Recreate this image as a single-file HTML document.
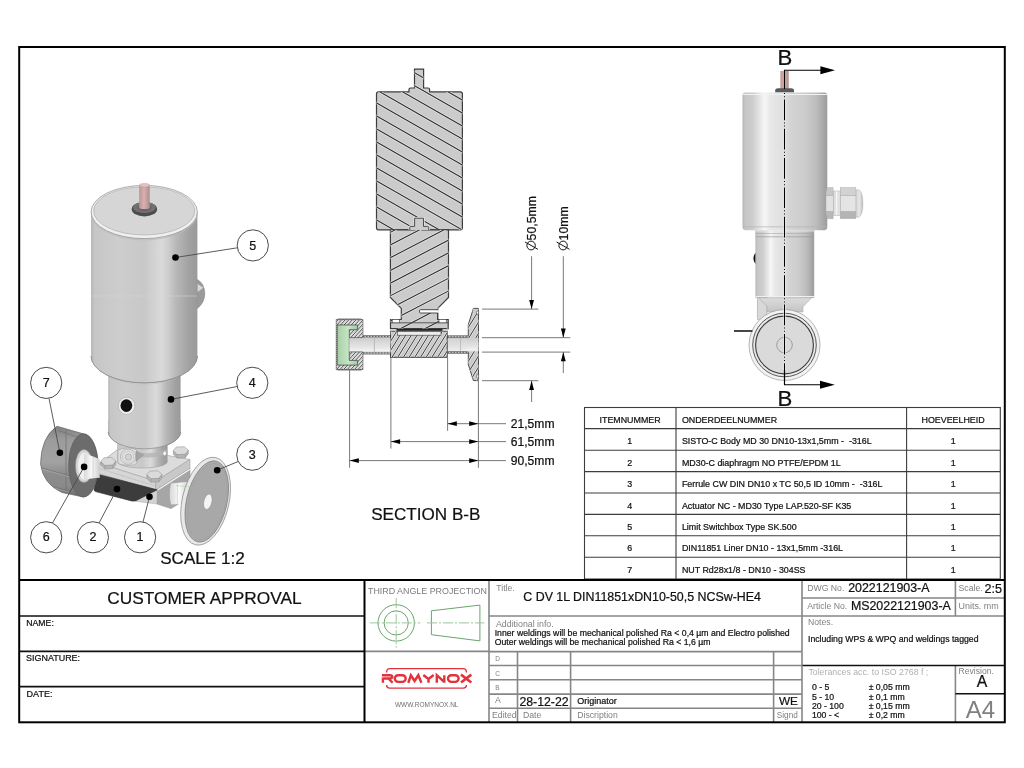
<!DOCTYPE html>
<html><head><meta charset="utf-8"><style>
html,body{margin:0;padding:0;background:#fff;width:1024px;height:768px;overflow:hidden}
svg{display:block;font-family:"Liberation Sans",sans-serif;filter:blur(0.3px)}
text[fill="#111"],g[fill="#111"] text{stroke:#111;stroke-width:0.22px}
</style></head><body>
<svg width="1024" height="768" viewBox="0 0 1024 768">
<rect x="0" y="0" width="1024" height="768" fill="#fff"/>

<defs>
<linearGradient id="cyl" x1="0" x2="1" y1="0" y2="0">
<stop offset="0" stop-color="#b2b2b2"/><stop offset="0.03" stop-color="#c6c6c6"/><stop offset="0.25" stop-color="#cdcdcd"/><stop offset="0.5" stop-color="#c8c8c8"/><stop offset="0.66" stop-color="#dadada"/><stop offset="0.72" stop-color="#cfcfcf"/><stop offset="0.8" stop-color="#b8b8b8"/><stop offset="0.92" stop-color="#a2a2a2"/><stop offset="1" stop-color="#9a9a9a"/>
</linearGradient>
<linearGradient id="pin" x1="0" x2="1" y1="0" y2="0">
<stop offset="0" stop-color="#bc9494"/><stop offset="0.45" stop-color="#d8b0b0"/><stop offset="1" stop-color="#b08c8c"/>
</linearGradient>
<linearGradient id="pipeL" x1="0" x2="1" y1="0" y2="0">
<stop offset="0" stop-color="#d8d8d8"/><stop offset="0.5" stop-color="#fafafa"/><stop offset="1" stop-color="#cfcfcf"/>
</linearGradient>
<linearGradient id="nutS" x1="0" x2="0" y1="0" y2="1">
<stop offset="0" stop-color="#808080"/><stop offset="0.2" stop-color="#9c9c9c"/><stop offset="0.5" stop-color="#a2a2a2"/><stop offset="0.68" stop-color="#8c8c8c"/><stop offset="0.85" stop-color="#8a8a8a"/><stop offset="1" stop-color="#6a6a6a"/>
</linearGradient>
<linearGradient id="nutG" x1="0" x2="1" y1="0" y2="0">
<stop offset="0" stop-color="#7a7a7a"/><stop offset="0.3" stop-color="#9a9a9a"/><stop offset="0.6" stop-color="#8e8e8e"/><stop offset="1" stop-color="#6e6e6e"/>
</linearGradient>
</defs>
<g id="iso">
<!-- actuator (4) -->
<path d="M108.3 370 L108.3 431.8 A36.15 17 0 0 0 180.6 431.8 L180.6 370 Z" fill="url(#cyl)"/>
<path d="M108.3 431.8 A36.15 17 0 0 0 180.6 431.8" fill="none" stroke="#8a8a8a" stroke-width="0.7"/>
<path d="M108.3 372 A36.15 12 0 0 0 180.6 372" fill="none" stroke="#bdbdbd" stroke-width="0.6"/>
<path d="M91.1 356 A53.15 26.8 0 0 0 197.4 356" fill="none" stroke="#8a8a8a" stroke-width="0.8"/>
<ellipse cx="126.6" cy="405.8" rx="8.3" ry="8.6" fill="#eeeeee" stroke="#9a9a9a" stroke-width="0.5"/>
<ellipse cx="126.4" cy="405.6" rx="5.9" ry="6.3" fill="#111"/>
<!-- big cylinder (5) -->
<path d="M91.1 212 L91.1 356 A53.15 26.8 0 0 0 197.4 356 L197.4 212 Z" fill="url(#cyl)"/>
<path d="M91.1 356 A53.15 26.8 0 0 0 197.4 356" fill="none" stroke="#8a8a8a" stroke-width="0.7"/>
<line x1="91.5" y1="296" x2="197" y2="296" stroke="#d4d4d4" stroke-width="0.8" opacity="0.7"/>
<path d="M197.4 279.5 Q205 284 204.8 294 Q204.5 303 197.4 308.4 Z" fill="#9a9a9a" stroke="#7a7a7a" stroke-width="0.5"/>
<path d="M197.6 284 L203.4 287.8 L197.6 292 Z" fill="#d8d8d8"/>
<ellipse cx="144.25" cy="212" rx="53.15" ry="26.6" fill="#efefef" stroke="#8e8e8e" stroke-width="0.7"/>
<ellipse cx="144.25" cy="210.9" rx="50.6" ry="24.1" fill="#d6d6d6" stroke="#a8a8a8" stroke-width="0.6"/>
<path d="M91.3 214.5 A53 26.6 0 0 0 197.2 214.5" fill="none" stroke="#bdbdbd" stroke-width="0.8"/>
<!-- pin -->
<ellipse cx="144.4" cy="209.2" rx="12.7" ry="7.2" fill="#4c4c4c"/>
<ellipse cx="144.4" cy="207.4" rx="11.4" ry="5.6" fill="#727272"/>
<ellipse cx="144.4" cy="207.6" rx="7.5" ry="3.6" fill="#666"/>
<rect x="139.2" y="185.2" width="10.5" height="22.4" fill="url(#pin)"/>
<ellipse cx="144.45" cy="207.5" rx="5.25" ry="1.6" fill="url(#pin)"/>
<ellipse cx="144.45" cy="185.2" rx="5.25" ry="1.8" fill="#e2c2c2" stroke="#b08888" stroke-width="0.4"/>
<!-- neck -->
<path d="M117.6 446 L117.6 466 L167.4 466 L167.4 446 Q142 452 117.6 446 Z" fill="#d6d6d6"/>
<!-- body top plate -->
<path d="M99.4 463.3 L121 447 L190 459.5 L155.6 481.3 Z" fill="#dcdcdc" stroke="#9a9a9a" stroke-width="0.6"/>
<path d="M99.4 463.3 L155.6 481.3 L155.6 490.3 L99.4 473.8 Z" fill="#d6d6d6" stroke="#9a9a9a" stroke-width="0.5"/>
<path d="M99.6 468.6 L155.4 486" stroke="#b0b0b0" stroke-width="0.5" fill="none"/>
<path d="M155.6 481.3 L190 459.5 L190 468.5 L155.6 490.3 Z" fill="#c8c8c8" stroke="#9a9a9a" stroke-width="0.5"/>
<!-- neck over plate -->
<path d="M117.3 440 L117.3 461.5 A25.1 6.5 0 0 0 167.5 461.5 L167.5 440 Z" fill="url(#cyl)"/>
<path d="M117.3 461.5 A25.1 6.5 0 0 0 167.5 461.5" fill="none" stroke="#a0a0a0" stroke-width="0.6"/>
<path d="M128 449.5 Q150 457 167.5 449 L167.5 453.5 Q150 461 128 454 Z" fill="#b4b4b4" opacity="0.8"/>

<path d="M118 450 L118 463 Q122 466 134 465 L137 463 L137 450 Q128 446 118 450 Z" fill="#dedede" stroke="#9a9a9a" stroke-width="0.5"/>
<circle cx="128.1" cy="456.7" r="7.6" fill="#e2e2e2" stroke="#9a9a9a" stroke-width="0.6"/>
<circle cx="128.1" cy="456.7" r="5.6" fill="none" stroke="#b0b0b0" stroke-width="0.5"/>
<circle cx="128.4" cy="457" r="3.2" fill="#d2d2d2" stroke="#9a9a9a" stroke-width="0.5"/>
<path d="M136 451 L143.6 454.9 L136 461.4 Z" fill="#a4a4a4" stroke="#8a8a8a" stroke-width="0.4"/>
<ellipse cx="164.7" cy="453.5" rx="1.2" ry="1.9" fill="#fff"/>
<path d="M108.3 420 L108.3 431.8 A36.15 17 0 0 0 180.6 431.8 L180.6 420 Z" fill="url(#cyl)"/>
<path d="M108.3 431.8 A36.15 17 0 0 0 180.6 431.8" fill="none" stroke="#8a8a8a" stroke-width="0.7"/>
<!-- bolts -->
<polygon points="100.8,461.5 104.8,465.4 112.8,465 115.8,461 115.8,464.5 112.8,468.5 104.8,469 100.8,465" fill="#b4b4b4" stroke="#8a8a8a" stroke-width="0.5"/><polygon points="100.8,461.5 103.8,457.8 111.8,457.5 115.8,461 112.8,465 104.8,465.4" fill="#dadada" stroke="#8a8a8a" stroke-width="0.5"/><line x1="104.8" y1="465.4" x2="104.8" y2="469" stroke="#8a8a8a" stroke-width="0.4"/><line x1="112.8" y1="465" x2="112.8" y2="468.5" stroke="#8a8a8a" stroke-width="0.4"/><polygon points="146.9,474.8 150.9,478.7 158.9,478.3 161.9,474.3 161.9,477.8 158.9,481.8 150.9,482.3 146.9,478.3" fill="#b4b4b4" stroke="#8a8a8a" stroke-width="0.5"/><polygon points="146.9,474.8 149.9,471.1 157.9,470.8 161.9,474.3 158.9,478.3 150.9,478.7" fill="#dadada" stroke="#8a8a8a" stroke-width="0.5"/><line x1="150.9" y1="478.7" x2="150.9" y2="482.3" stroke="#8a8a8a" stroke-width="0.4"/><line x1="158.9" y1="478.3" x2="158.9" y2="481.8" stroke="#8a8a8a" stroke-width="0.4"/><polygon points="173.3,450.7 177.3,454.59999999999997 185.3,454.2 188.3,450.2 188.3,453.7 185.3,457.7 177.3,458.2 173.3,454.2" fill="#b4b4b4" stroke="#8a8a8a" stroke-width="0.5"/><polygon points="173.3,450.7 176.3,447.0 184.3,446.7 188.3,450.2 185.3,454.2 177.3,454.59999999999997" fill="#dadada" stroke="#8a8a8a" stroke-width="0.5"/><line x1="177.3" y1="454.59999999999997" x2="177.3" y2="458.2" stroke="#8a8a8a" stroke-width="0.4"/><line x1="185.3" y1="454.2" x2="185.3" y2="457.7" stroke="#8a8a8a" stroke-width="0.4"/>
<!-- body right face -->
<path d="M155.6 490.3 L190 468.5 L190 497 L171 508.6 L157 504 Z" fill="#a6a6a6" stroke="#8a8a8a" stroke-width="0.5"/>
<path d="M156 491 L190 469.2" fill="none" stroke="#f4f4f4" stroke-width="1.3"/>
<!-- under body -->
<path d="M131 500.8 L157.2 489.8 L157 504 L145 502.5 Z" fill="#d2d2d2" stroke="#a0a0a0" stroke-width="0.4"/>
<!-- diaphragm (2) -->
<path d="M97.8 474.2 L157.2 489.8 L136.5 500.4 Q134 501.3 131.5 500.9 L95.5 491.6 Q93.9 491 94 489.5 Z" fill="#3c3c3c" stroke="#2a2a2a" stroke-width="0.6"/>
<!-- right pipe -->
<path d="M171 483.5 L189 481.8 L189 503.5 L171 504.5 Q168.5 494 171 483.5 Z" fill="url(#pipeL)"/>
<line x1="177.5" y1="482.9" x2="177.5" y2="504.1" stroke="#c8c8c8" stroke-width="0.5"/>
<!-- flange (3) -->
<g transform="rotate(13 205.6 501.2)">
<ellipse cx="205.6" cy="501.2" rx="23.4" ry="44.8" fill="#e8e8e8" stroke="#8a8a8a" stroke-width="0.7"/>
<ellipse cx="206.8" cy="501.2" rx="20.2" ry="41.4" fill="#acacac" stroke="#7a7a7a" stroke-width="0.7"/>
<ellipse cx="207.3" cy="501.2" rx="18.5" ry="39" fill="#a8a8a8" stroke="#9a9a9a" stroke-width="0.4"/>
<ellipse cx="207.9" cy="501.2" rx="4" ry="7.8" fill="#f4f4f4" stroke="#8a8a8a" stroke-width="0.5"/>
</g>
<line x1="200" y1="488" x2="176" y2="485.5" stroke="#8ac08a" stroke-width="0.5" opacity="0.8"/>
<!-- left pipe -->
<path d="M80 458 L99.5 462 L99.5 478 L80 476 Z" fill="url(#pipeL)"/>
<!-- nut (7) -->
<path d="M57 426.2 L83.3 433.8 A14.7 31.6 0 0 1 83.3 497 L62 492.5 Q43 484 40.5 464 Q41 437 57 426.2 Z" fill="url(#nutS)" stroke="#5a5a5a" stroke-width="0.6"/>
<clipPath id="cpNutS"><path d="M57 426.2 L83.3 433.8 A14.7 31.6 0 0 1 83.3 497 L62 492.5 Q43 484 40.5 464 Q41 437 57 426.2 Z"/></clipPath>
<g clip-path="url(#cpNutS)">
<path d="M40 467.5 L70 476 M40 483 L70 491.5 M58 430.5 L76 436.5 M66 430 L66 494" stroke="#737373" stroke-width="0.8" fill="none"/>
<path d="M40 468.5 L70 477 M40 484 L70 492.5" stroke="#b0b0b0" stroke-width="0.6" fill="none"/>
</g>
<ellipse cx="83.3" cy="465.4" rx="14.7" ry="31.6" fill="#6c6c6c" stroke="#555" stroke-width="0.5"/>
<ellipse cx="84" cy="466" rx="8.6" ry="16.5" fill="#d4d4d4" stroke="#888" stroke-width="0.5"/>
<ellipse cx="84.6" cy="466.2" rx="6.6" ry="13.6" fill="#f0f0f0"/>
<path d="M84 453 L99.5 459 L99.5 477.5 L84 479.5 Z" fill="url(#pipeL)"/>
<line x1="93" y1="456.5" x2="93" y2="478.5" stroke="#c4c4c4" stroke-width="0.6"/>
</g>
<line x1="237.3" y1="247.8" x2="175.5" y2="257.5" stroke="#4a4a4a" stroke-width="0.9"/><circle cx="175.5" cy="257.5" r="3.3" fill="#000"/><circle cx="252.8" cy="245.4" r="15.6" fill="#fff" stroke="#4a4a4a" stroke-width="1"/><text x="252.8" y="249.5" font-size="12.5" text-anchor="middle" fill="#111">5</text><line x1="237.2" y1="386.5" x2="171" y2="399.4" stroke="#4a4a4a" stroke-width="0.9"/><circle cx="171" cy="399.4" r="3.3" fill="#000"/><circle cx="252.3" cy="382.8" r="15.6" fill="#fff" stroke="#4a4a4a" stroke-width="1"/><text x="252.3" y="386.90000000000003" font-size="12.5" text-anchor="middle" fill="#111">4</text><line x1="238.2" y1="461.5" x2="217.2" y2="470.2" stroke="#4a4a4a" stroke-width="0.9"/><circle cx="217.2" cy="470.2" r="3.3" fill="#000"/><circle cx="252.3" cy="454.7" r="15.6" fill="#fff" stroke="#4a4a4a" stroke-width="1"/><text x="252.3" y="458.8" font-size="12.5" text-anchor="middle" fill="#111">3</text><line x1="49" y1="398.4" x2="59.9" y2="452.8" stroke="#4a4a4a" stroke-width="0.9"/><circle cx="59.9" cy="452.8" r="3.3" fill="#000"/><circle cx="46.2" cy="382.9" r="15.6" fill="#fff" stroke="#4a4a4a" stroke-width="1"/><text x="46.2" y="387.0" font-size="12.5" text-anchor="middle" fill="#111">7</text><line x1="52.5" y1="523" x2="84.1" y2="466.9" stroke="#4a4a4a" stroke-width="0.9"/><circle cx="84.1" cy="466.9" r="3.3" fill="#000"/><circle cx="46.2" cy="537.3" r="15.6" fill="#fff" stroke="#4a4a4a" stroke-width="1"/><text x="46.2" y="541.4" font-size="12.5" text-anchor="middle" fill="#111">6</text><line x1="99" y1="523" x2="117" y2="489.1" stroke="#4a4a4a" stroke-width="0.9"/><circle cx="117" cy="489.1" r="3.3" fill="#000"/><circle cx="92.9" cy="537.3" r="15.6" fill="#fff" stroke="#4a4a4a" stroke-width="1"/><text x="92.9" y="541.4" font-size="12.5" text-anchor="middle" fill="#111">2</text><line x1="143" y1="522" x2="149.5" y2="496.8" stroke="#4a4a4a" stroke-width="0.9"/><circle cx="149.5" cy="496.8" r="3.3" fill="#000"/><circle cx="140.1" cy="537.3" r="15.6" fill="#fff" stroke="#4a4a4a" stroke-width="1"/><text x="140.1" y="541.4" font-size="12.5" text-anchor="middle" fill="#111">1</text><text x="160.2" y="563.5" font-size="17.1" fill="#111">SCALE 1:2</text>

<defs>
<clipPath id="cpNut"><path d="M336.3 319.8 L362.8 319.8 L362.8 369.3 L336.3 369.3 Z M337.2 325 L337.2 365.1 L357.6 365.1 L357.6 360.4 L349.3 360.4 L349.3 329.7 L357.6 329.7 L357.6 325 Z" clip-rule="evenodd"/></clipPath>
<clipPath id="cpUB"><path d="M376.5 94 Q376.5 91.9 378.6 91.9 L409 91.9 L409 89.6 Q409 88 410.6 88 L414.5 88 L414.5 69.1 L423.6 69.1 L423.6 88 L428 88 Q429.6 88 429.6 89.6 L429.6 91.9 L460.3 91.9 Q462.4 91.9 462.4 94 L462.4 227.8 Q462.4 229.9 460.3 229.9 L378.6 229.9 Q376.5 229.9 376.5 227.8 Z"/></clipPath>
<clipPath id="cpLA"><path d="M390.4 229.9 L448.5 229.9 L448.5 297.4 L437.7 308.4 L437.7 319.5 L448.2 319.5 L448.2 328.6 L390.5 328.6 L390.5 319.5 L401.3 319.5 L401.3 308.4 L390.4 297.4 Z"/></clipPath>
<clipPath id="cpBody"><rect x="390.5" y="331.2" width="56.7" height="26.1"/></clipPath>
<clipPath id="cpFl"><path d="M473.4 308.4 L478.5 308.4 L478.5 380.6 L473.4 380.6 L468.3 364.5 L468.3 324.5 Z"/></clipPath>
<linearGradient id="bore" x1="0" x2="0" y1="0" y2="1">
<stop offset="0" stop-color="#cbcbcb"/><stop offset="0.3" stop-color="#d8d8d8"/><stop offset="0.7" stop-color="#e6e6e6"/><stop offset="0.9" stop-color="#f2f2f2"/><stop offset="1" stop-color="#e2e2e2"/>
</linearGradient>
<linearGradient id="green" x1="0" x2="1" y1="0" y2="0">
<stop offset="0" stop-color="#a6cfa6"/><stop offset="0.55" stop-color="#c6e4c6"/><stop offset="1" stop-color="#a2cba2"/>
</linearGradient>
</defs>
<g id="section">
<path d="M376.5 94 Q376.5 91.9 378.6 91.9 L409 91.9 L409 89.6 Q409 88 410.6 88 L414.5 88 L414.5 69.1 L423.6 69.1 L423.6 88 L428 88 Q429.6 88 429.6 89.6 L429.6 91.9 L460.3 91.9 Q462.4 91.9 462.4 94 L462.4 227.8 Q462.4 229.9 460.3 229.9 L378.6 229.9 Q376.5 229.9 376.5 227.8 Z" fill="#cbcbcb" stroke="#3c3c3c" stroke-width="1.2"/>
<path d="M370.0 -17.7L470.0 39.3M370.0 -4.7L470.0 52.3M370.0 8.3L470.0 65.3M370.0 21.3L470.0 78.3M370.0 34.3L470.0 91.3M370.0 47.3L470.0 104.3M370.0 60.3L470.0 117.3M370.0 73.3L470.0 130.3M370.0 86.3L470.0 143.3M370.0 99.3L470.0 156.3M370.0 112.3L470.0 169.3M370.0 125.3L470.0 182.3M370.0 138.3L470.0 195.3M370.0 151.3L470.0 208.3M370.0 164.3L470.0 221.3M370.0 177.3L470.0 234.3M370.0 190.3L470.0 247.3M370.0 203.3L470.0 260.3M370.0 216.3L470.0 273.3M370.0 229.3L470.0 286.3M370.0 242.3L470.0 299.3M370.0 255.3L470.0 312.3" stroke="#e2e2e2" stroke-width="2.6" clip-path="url(#cpUB)"/>
<path d="M370.0 -17.7L470.0 39.3M370.0 -4.7L470.0 52.3M370.0 8.3L470.0 65.3M370.0 21.3L470.0 78.3M370.0 34.3L470.0 91.3M370.0 47.3L470.0 104.3M370.0 60.3L470.0 117.3M370.0 73.3L470.0 130.3M370.0 86.3L470.0 143.3M370.0 99.3L470.0 156.3M370.0 112.3L470.0 169.3M370.0 125.3L470.0 182.3M370.0 138.3L470.0 195.3M370.0 151.3L470.0 208.3M370.0 164.3L470.0 221.3M370.0 177.3L470.0 234.3M370.0 190.3L470.0 247.3M370.0 203.3L470.0 260.3M370.0 216.3L470.0 273.3M370.0 229.3L470.0 286.3M370.0 242.3L470.0 299.3M370.0 255.3L470.0 312.3" stroke="#2a2a2a" stroke-width="1.05" clip-path="url(#cpUB)"/>
<path d="M390.4 229.9 L448.5 229.9 L448.5 297.4 L437.7 308.4 L437.7 319.5 L448.2 319.5 L448.2 328.6 L390.5 328.6 L390.5 319.5 L401.3 319.5 L401.3 308.4 L390.4 297.4 Z" fill="#cbcbcb" stroke="#3c3c3c" stroke-width="1.2"/>
<path d="M385.0 209.7L455.0 173.3M385.0 222.4L455.0 186.0M385.0 235.1L455.0 198.7M385.0 247.8L455.0 211.4M385.0 260.5L455.0 224.1M385.0 273.2L455.0 236.8M385.0 285.9L455.0 249.5M385.0 298.6L455.0 262.2M385.0 311.3L455.0 274.9M385.0 324.0L455.0 287.6M385.0 336.7L455.0 300.3M385.0 349.4L455.0 313.0M385.0 362.1L455.0 325.7M385.0 374.8L455.0 338.4M385.0 387.5L455.0 351.1" stroke="#e2e2e2" stroke-width="2.6" clip-path="url(#cpLA)"/>
<path d="M385.0 209.7L455.0 173.3M385.0 222.4L455.0 186.0M385.0 235.1L455.0 198.7M385.0 247.8L455.0 211.4M385.0 260.5L455.0 224.1M385.0 273.2L455.0 236.8M385.0 285.9L455.0 249.5M385.0 298.6L455.0 262.2M385.0 311.3L455.0 274.9M385.0 324.0L455.0 287.6M385.0 336.7L455.0 300.3M385.0 349.4L455.0 313.0M385.0 362.1L455.0 325.7M385.0 374.8L455.0 338.4M385.0 387.5L455.0 351.1" stroke="#2a2a2a" stroke-width="1.05" clip-path="url(#cpLA)"/>
<line x1="390.5" y1="322.8" x2="448.2" y2="322.8" stroke="#3c3c3c" stroke-width="0.8"/>
<rect x="392.2" y="319.5" width="7.1" height="3.3" fill="#fff" stroke="#3c3c3c" stroke-width="0.6"/>
<rect x="439" y="319.5" width="7.2" height="3.3" fill="#fff" stroke="#3c3c3c" stroke-width="0.6"/>
<rect x="419.5" y="309.7" width="19" height="3.3" fill="#fff"/>
<path d="M438.2 309.7 H420.5 Q419.5 309.7 419.5 310.7 V312 Q419.5 313 420.5 313 H437.7 V319.5" fill="none" stroke="#3c3c3c" stroke-width="0.9"/>
<path d="M409.8 230 L409.8 227.4 Q409.8 226.4 410.8 226.4 L414.6 226.4 L414.6 218.2 L423.5 218.2 L423.5 226.4 L427.7 226.4 Q428.7 226.4 428.7 227.4 L428.7 230" fill="#cbcbcb" stroke="#e6e6e6" stroke-width="2.4"/>
<path d="M409.8 230 L409.8 227.4 Q409.8 226.4 410.8 226.4 L414.6 226.4 L414.6 218.2 L423.5 218.2 L423.5 226.4 L427.7 226.4 Q428.7 226.4 428.7 227.4 L428.7 230" fill="#cbcbcb" stroke="#3c3c3c" stroke-width="0.9"/>
<!-- pipes -->
<rect x="362.8" y="335.4" width="27.7" height="2.2" fill="#c4c4c4" stroke="#3c3c3c" stroke-width="0.5"/>
<rect x="362.8" y="351.9" width="27.7" height="2.2" fill="#c4c4c4" stroke="#3c3c3c" stroke-width="0.5"/>
<path d="M363 336.5 H390 M363 353 H390" stroke="#444" stroke-width="0.8" stroke-dasharray="1.5 1.5"/>
<rect x="447.2" y="335.8" width="21.3" height="17.6" fill="url(#bore)"/>
<rect x="447.2" y="335.8" width="21.3" height="2" fill="#c4c4c4" stroke="#3c3c3c" stroke-width="0.5"/>
<rect x="447.2" y="351.4" width="21.3" height="2" fill="#c4c4c4" stroke="#3c3c3c" stroke-width="0.5"/>
<path d="M447.5 336.8 H468.5 M447.5 352.4 H468.5" stroke="#444" stroke-width="0.8" stroke-dasharray="1.5 1.5"/>
<line x1="460.5" y1="337.8" x2="460.5" y2="351.4" stroke="#aaa" stroke-width="0.6"/>
<!-- body -->
<rect x="390.5" y="331.2" width="56.7" height="26.1" fill="#cbcbcb" stroke="#3c3c3c" stroke-width="1"/>
<path d="M379.7 331.2L363.5 357.3M385.4 331.2L369.2 357.3M391.1 331.2L374.9 357.3M396.8 331.2L380.6 357.3M402.5 331.2L386.3 357.3M408.2 331.2L392.0 357.3M413.9 331.2L397.7 357.3M419.6 331.2L403.4 357.3M425.3 331.2L409.1 357.3M431.0 331.2L414.8 357.3M436.7 331.2L420.5 357.3M442.4 331.2L426.2 357.3M448.1 331.2L431.9 357.3M453.8 331.2L437.6 357.3M459.5 331.2L443.3 357.3M465.2 331.2L449.0 357.3M470.9 331.2L454.7 357.3" stroke="#e4e4e4" stroke-width="2.4" clip-path="url(#cpBody)"/>
<path d="M379.7 331.2L363.5 357.3M385.4 331.2L369.2 357.3M391.1 331.2L374.9 357.3M396.8 331.2L380.6 357.3M402.5 331.2L386.3 357.3M408.2 331.2L392.0 357.3M413.9 331.2L397.7 357.3M419.6 331.2L403.4 357.3M425.3 331.2L409.1 357.3M431.0 331.2L414.8 357.3M436.7 331.2L420.5 357.3M442.4 331.2L426.2 357.3M448.1 331.2L431.9 357.3M453.8 331.2L437.6 357.3M459.5 331.2L443.3 357.3M465.2 331.2L449.0 357.3M470.9 331.2L454.7 357.3" stroke="#2a2a2a" stroke-width="0.9" clip-path="url(#cpBody)"/>
<rect x="397.4" y="331.4" width="43.6" height="3.8" fill="#ececec" stroke="#3c3c3c" stroke-width="0.6"/>
<rect x="396.5" y="329" width="46" height="1.8" fill="#222"/>
<!-- right flange -->
<path d="M473.4 308.4 L478.5 308.4 L478.5 380.6 L473.4 380.6 L468.3 364.5 L468.3 324.5 Z" fill="#cbcbcb" stroke="#3c3c3c" stroke-width="0.9"/>
<path d="M452.3 308.0L407.0 381.0M459.3 308.0L414.0 381.0M466.3 308.0L421.0 381.0M473.3 308.0L428.0 381.0M480.3 308.0L435.0 381.0M487.3 308.0L442.0 381.0M494.3 308.0L449.0 381.0M501.3 308.0L456.0 381.0M508.3 308.0L463.0 381.0M515.3 308.0L470.0 381.0M522.3 308.0L477.0 381.0M529.3 308.0L484.0 381.0M536.3 308.0L491.0 381.0" stroke="#e4e4e4" stroke-width="2.4" clip-path="url(#cpFl)"/>
<path d="M452.3 308.0L407.0 381.0M459.3 308.0L414.0 381.0M466.3 308.0L421.0 381.0M473.3 308.0L428.0 381.0M480.3 308.0L435.0 381.0M487.3 308.0L442.0 381.0M494.3 308.0L449.0 381.0M501.3 308.0L456.0 381.0M508.3 308.0L463.0 381.0M515.3 308.0L470.0 381.0M522.3 308.0L477.0 381.0M529.3 308.0L484.0 381.0M536.3 308.0L491.0 381.0" stroke="#2a2a2a" stroke-width="0.9" clip-path="url(#cpFl)"/>
<rect x="466.5" y="337.8" width="12" height="13.6" fill="url(#bore)"/>
<path d="M478.6 310.5 A2 2.2 0 0 0 478.6 315 Z M478.6 374 A2 2.2 0 0 0 478.6 378.5 Z" fill="#fff" stroke="#3c3c3c" stroke-width="0.6"/>
<!-- nut -->
<rect x="337" y="318.3" width="25" height="52.5" rx="1.5" fill="#a8a8a8"/>
<rect x="336.3" y="319.8" width="26.5" height="49.5" fill="#cbcbcb" stroke="#3c3c3c" stroke-width="0.9"/>
<path d="M331.5 319.0L285.6 370.0M335.1 319.0L289.2 370.0M338.7 319.0L292.8 370.0M342.3 319.0L296.4 370.0M345.9 319.0L300.0 370.0M349.5 319.0L303.6 370.0M353.1 319.0L307.2 370.0M356.7 319.0L310.8 370.0M360.3 319.0L314.4 370.0M363.9 319.0L318.0 370.0M367.5 319.0L321.6 370.0M371.1 319.0L325.2 370.0M374.7 319.0L328.8 370.0M378.3 319.0L332.4 370.0M381.9 319.0L336.0 370.0M385.5 319.0L339.6 370.0M389.1 319.0L343.2 370.0M392.7 319.0L346.8 370.0M396.3 319.0L350.4 370.0M399.9 319.0L354.0 370.0M403.5 319.0L357.6 370.0M407.1 319.0L361.2 370.0M410.7 319.0L364.8 370.0M414.3 319.0L368.4 370.0" stroke="#ececec" stroke-width="2" clip-path="url(#cpNut)"/>
<path d="M331.5 319.0L285.6 370.0M335.1 319.0L289.2 370.0M338.7 319.0L292.8 370.0M342.3 319.0L296.4 370.0M345.9 319.0L300.0 370.0M349.5 319.0L303.6 370.0M353.1 319.0L307.2 370.0M356.7 319.0L310.8 370.0M360.3 319.0L314.4 370.0M363.9 319.0L318.0 370.0M367.5 319.0L321.6 370.0M371.1 319.0L325.2 370.0M374.7 319.0L328.8 370.0M378.3 319.0L332.4 370.0M381.9 319.0L336.0 370.0M385.5 319.0L339.6 370.0M389.1 319.0L343.2 370.0M392.7 319.0L346.8 370.0M396.3 319.0L350.4 370.0M399.9 319.0L354.0 370.0M403.5 319.0L357.6 370.0M407.1 319.0L361.2 370.0M410.7 319.0L364.8 370.0M414.3 319.0L368.4 370.0" stroke="#2a2a2a" stroke-width="0.8" clip-path="url(#cpNut)"/>
<path d="M337.2 325 L357.6 325 L357.6 329.7 L349.3 329.7 L349.3 360.4 L357.6 360.4 L357.6 365.1 L337.2 365.1 Z" fill="url(#green)" stroke="#3c3c3c" stroke-width="0.7"/>
<rect x="349.3" y="337.6" width="41.1" height="14.3" fill="url(#bore)"/>
<line x1="349.3" y1="337.6" x2="362.8" y2="337.6" stroke="#3c3c3c" stroke-width="0.6"/>
<line x1="349.3" y1="351.9" x2="362.8" y2="351.9" stroke="#3c3c3c" stroke-width="0.6"/>
<line x1="374.3" y1="337.6" x2="374.3" y2="351.9" stroke="#b8b8b8" stroke-width="1"/>
</g>


<g stroke="#6a6a6a" stroke-width="0.9" fill="none">
<line x1="349.6" y1="369.5" x2="349.6" y2="467.8"/>
<line x1="390.9" y1="357.5" x2="390.9" y2="448.6"/>
<line x1="447.6" y1="357.5" x2="447.6" y2="430.8"/>
<line x1="478.4" y1="381" x2="478.4" y2="467.8"/>
<line x1="447.6" y1="423.7" x2="506" y2="423.7"/>
<line x1="390.9" y1="441.6" x2="506" y2="441.6"/>
<line x1="349.6" y1="460.6" x2="506" y2="460.6"/>
<line x1="482" y1="309.1" x2="538.4" y2="309.1"/>
<line x1="482" y1="337.7" x2="570.3" y2="337.7"/>
<line x1="482" y1="352.1" x2="570.3" y2="352.1"/>
<line x1="482" y1="380.7" x2="538.4" y2="380.7"/>
<line x1="531.6" y1="256.2" x2="531.6" y2="309.1"/>
<line x1="563.3" y1="256.2" x2="563.3" y2="337.7"/>
<line x1="531.6" y1="380.7" x2="531.6" y2="402"/>
<line x1="563.3" y1="352.1" x2="563.3" y2="373"/>
</g>
<path d="M447.6 423.7 L456.8 421.3 L456.8 426.09999999999997 Z" fill="#000"/><path d="M478.4 423.7 L469.2 421.3 L469.2 426.09999999999997 Z" fill="#000"/>
<path d="M390.9 441.6 L400.09999999999997 439.20000000000005 L400.09999999999997 444.0 Z" fill="#000"/><path d="M478.4 441.6 L469.2 439.20000000000005 L469.2 444.0 Z" fill="#000"/>
<path d="M349.6 460.6 L358.8 458.20000000000005 L358.8 463.0 Z" fill="#000"/><path d="M478.4 460.6 L469.2 458.20000000000005 L469.2 463.0 Z" fill="#000"/>
<path d="M531.6 309.1 L529.2 299.90000000000003 L534.0 299.90000000000003 Z" fill="#000"/><path d="M563.3 337.7 L560.9 328.5 L565.6999999999999 328.5 Z" fill="#000"/>
<path d="M531.6 380.7 L529.2 389.9 L534.0 389.9 Z" fill="#000"/><path d="M563.3 352.1 L560.9 361.3 L565.6999999999999 361.3 Z" fill="#000"/>
<g font-size="12.1" fill="#111">
<text x="510.8" y="428.2">21,5mm</text>
<text x="510.8" y="446.1">61,5mm</text>
<text x="510.8" y="465.1">90,5mm</text>
<text transform="translate(536.3 240.4) rotate(-90)" font-size="12.3">50,5mm</text>
<text transform="translate(567.6 240.4) rotate(-90)" font-size="12.3">10mm</text>
</g>
<text x="371.2" y="520.1" font-size="17.1" fill="#111">SECTION B-B</text>
<g fill="none" stroke="#111" stroke-width="1">
<ellipse cx="531.1" cy="245.5" rx="4.2" ry="4.4"/><line x1="525" y1="242" x2="537.9" y2="249.3"/>
<ellipse cx="563.1" cy="245.5" rx="4.2" ry="4.4"/><line x1="556.6" y1="242" x2="569.5" y2="249.3"/>
</g>


<defs>
<linearGradient id="cyl2" x1="0" x2="1" y1="0" y2="0">
<stop offset="0" stop-color="#b4b4b4"/><stop offset="0.03" stop-color="#c6c6c6"/><stop offset="0.12" stop-color="#cdcdcd"/><stop offset="0.2" stop-color="#e4e4e4"/><stop offset="0.26" stop-color="#f6f6f6"/><stop offset="0.33" stop-color="#e8e8e8"/><stop offset="0.5" stop-color="#dedede"/><stop offset="0.56" stop-color="#d4d4d4"/><stop offset="0.72" stop-color="#cdcdcd"/><stop offset="0.86" stop-color="#bebebe"/><stop offset="0.95" stop-color="#a9a9a9"/><stop offset="1" stop-color="#9c9c9c"/>
</linearGradient>
<linearGradient id="domeG" x1="0" x2="1" y1="0" y2="0">
<stop offset="0" stop-color="#d6d6d6"/><stop offset="0.5" stop-color="#e6e6e6"/><stop offset="1" stop-color="#bdbdbd"/>
</linearGradient>
<linearGradient id="taperG" x1="0" x2="0" y1="0" y2="1">
<stop offset="0" stop-color="#dcdcdc"/><stop offset="1" stop-color="#c4c4c4"/>
</linearGradient>
</defs>
<g id="rview">
<!-- upper cylinder -->
<path d="M742.5 95.5 Q742.5 92.5 745.5 92.5 L824.3 92.5 Q827.3 92.5 827.3 95.5 L827.3 226.8 Q827.3 230.2 824 230.2 L745.8 230.2 Q742.5 230.2 742.5 226.8 Z" fill="url(#cyl2)"/>
<line x1="743" y1="94.5" x2="827" y2="94.5" stroke="#f2f2f2" stroke-width="1"/>
<line x1="743" y1="226.8" x2="827" y2="226.8" stroke="#b4b4b4" stroke-width="0.7"/>
<!-- gland -->
<g stroke="#a8a8a8" stroke-width="0.4">
<path d="M855.9 189.8 L859 189.8 Q862.9 192 862.9 203.5 Q862.9 215 859 217.2 L855.9 217.2 Z" fill="url(#domeG)"/>
<rect x="840.2" y="187.5" width="15.7" height="8.3" fill="#d2d2d2"/>
<rect x="840.2" y="195.8" width="15.7" height="15.7" fill="#e4e4e4"/>
<rect x="840.2" y="211.5" width="15.7" height="7.2" fill="#b4b4b4"/>
<rect x="833.2" y="191" width="7" height="24.6" fill="#e0e0e0"/>
<path d="M826 192 L827.5 187.5 L833.2 187.5 L833.2 195.8 L826 195.8 Z" fill="#c8c8c8"/>
<rect x="826" y="195.8" width="7.2" height="15.7" fill="#e2e2e2"/>
<path d="M826 211.5 L833.2 211.5 L833.2 218.7 L827.5 218.7 L826 214.5 Z" fill="#b8b8b8"/>
</g>
<line x1="836.7" y1="191.5" x2="836.7" y2="215" stroke="#f8f8f8" stroke-width="1.2"/>
<!-- lower cylinder -->
<rect x="755.4" y="230.3" width="58.8" height="67.5" fill="url(#cyl2)"/>
<line x1="755.5" y1="233.5" x2="814" y2="233.5" stroke="#aaa" stroke-width="0.6"/>
<line x1="755.5" y1="236.8" x2="814" y2="236.8" stroke="#9a9a9a" stroke-width="0.7"/>
<line x1="755.5" y1="231" x2="814" y2="231" stroke="#e8e8e8" stroke-width="0.8"/>
<line x1="755.5" y1="296.5" x2="814" y2="296.5" stroke="#f0f0f0" stroke-width="1"/>
<path d="M755.4 252.8 Q751.5 258.4 755.4 264 Z" fill="#111"/>
<!-- taper / neck -->
<rect x="757.2" y="297.5" width="9.8" height="22" fill="#d8d8d8" stroke="#a0a0a0" stroke-width="0.5"/>
<path d="M759 297.8 L811.7 297.8 L803 306.7 L803 312 L767 312 L767 306.7 Z" fill="url(#taperG)" stroke="#a0a0a0" stroke-width="0.5"/>
<!-- flange front -->
<circle cx="784.5" cy="345" r="35.5" fill="#f2f2f2" stroke="#9a9a9a" stroke-width="0.7"/>
<circle cx="784.5" cy="345" r="31.8" fill="#e8e8e8" stroke="#5a5a5a" stroke-width="1"/>
<circle cx="784.5" cy="345" r="28.9" fill="#dadada" stroke="#3a3a3a" stroke-width="1.1"/>
<circle cx="784.5" cy="345" r="7.8" fill="none" stroke="#777" stroke-width="0.6"/>
<line x1="734" y1="331" x2="752.5" y2="331" stroke="#333" stroke-width="1.8"/>
<!-- centre line -->
<line x1="784.5" y1="92" x2="784.5" y2="370" stroke="#fff" stroke-width="3.2" opacity="0.55" stroke-dasharray="20.7 2.2 1 2.2 1 2.2" stroke-dashoffset="21.8"/>
<line x1="784.5" y1="70.2" x2="784.5" y2="384.8" stroke="#000" stroke-width="1.1" stroke-dasharray="20.7 2.2 1 2.2 1 2.2"/>
<!-- pin + washer -->
<rect x="780.4" y="71" width="8.3" height="18" fill="url(#pin)"/>
<path d="M775.2 92.3 L775.2 90 Q775.2 88.3 778 88.3 L791.2 88.3 Q794 88.3 794 90 L794 92.3 Z" fill="#5a5a5a"/>
<!-- section arrows -->
<path d="M784.5 89 L784.5 70.2 L821 70.2" fill="none" stroke="#000" stroke-width="1.1"/>
<path d="M835 70.2 L820.4 66.2 L820.4 74.2 Z" fill="#000"/>
<path d="M784.5 370 L784.5 384.8 L821 384.8" fill="none" stroke="#000" stroke-width="1.1"/>
<path d="M834.8 384.8 L820 380.8 L820 388.8 Z" fill="#000"/>
<text x="777.5" y="65.4" font-size="22.2" fill="#111">B</text>
<text x="777.6" y="406" font-size="22.2" fill="#111">B</text>
</g>

<!-- BOM TABLE -->
<g id="bom" stroke="#3c3c3c" stroke-width="1.1" fill="none">
<rect x="584.5" y="407.5" width="415.8" height="171.5"/>
<line x1="676" y1="407.5" x2="676" y2="579"/>
<line x1="906.6" y1="407.5" x2="906.6" y2="579"/>
<line x1="584.5" y1="428.6" x2="1000.3" y2="428.6"/>
<line x1="584.5" y1="450.2" x2="1000.3" y2="450.2"/>
<line x1="584.5" y1="471.6" x2="1000.3" y2="471.6"/>
<line x1="584.5" y1="493" x2="1000.3" y2="493"/>
<line x1="584.5" y1="514.4" x2="1000.3" y2="514.4"/>
<line x1="584.5" y1="535.7" x2="1000.3" y2="535.7"/>
<line x1="584.5" y1="557.3" x2="1000.3" y2="557.3"/>
</g>
<g font-size="8.9" fill="#111">
<text x="599.5" y="422.7">ITEMNUMMER</text>
<text x="681.9" y="422.7">ONDERDEELNUMMER</text>
<text x="921.5" y="422.7">HOEVEELHEID</text>
</g>
<g font-size="8.9" fill="#111">
<text x="629.8" y="444.2" text-anchor="middle">1</text>
<text x="629.8" y="465.7" text-anchor="middle">2</text>
<text x="629.8" y="487.1" text-anchor="middle">3</text>
<text x="629.8" y="508.5" text-anchor="middle">4</text>
<text x="629.8" y="529.9" text-anchor="middle">5</text>
<text x="629.8" y="551.3" text-anchor="middle">6</text>
<text x="629.8" y="572.8" text-anchor="middle">7</text>
<text x="681.9" y="444.2" style="white-space:pre">SISTO-C Body MD 30 DN10-13x1,5mm -  -316L</text>
<text x="681.9" y="465.7">MD30-C diaphragm NO PTFE/EPDM 1L</text>
<text x="681.9" y="487.1" style="white-space:pre">Ferrule CW DIN DN10 x TC 50,5 ID 10mm -  -316L</text>
<text x="681.9" y="508.5">Actuator NC - MD30 Type LAP.520-SF K35</text>
<text x="681.9" y="529.9">Limit Switchbox Type SK.500</text>
<text x="681.9" y="551.3">DIN11851 Liner DN10 - 13x1,5mm -316L</text>
<text x="681.9" y="572.8">NUT Rd28x1/8 - DN10 - 304SS</text>
<text x="953.3" y="444.2" text-anchor="middle">1</text>
<text x="953.3" y="465.7" text-anchor="middle">1</text>
<text x="953.3" y="487.1" text-anchor="middle">1</text>
<text x="953.3" y="508.5" text-anchor="middle">1</text>
<text x="953.3" y="529.9" text-anchor="middle">1</text>
<text x="953.3" y="551.3" text-anchor="middle">1</text>
<text x="953.3" y="572.8" text-anchor="middle">1</text>
</g>

<!-- TITLE BLOCK -->
<g id="tb-lines" fill="none">
<g stroke="#868686" stroke-width="1.6">
<line x1="489" y1="580" x2="489" y2="722"/>
<line x1="802" y1="580" x2="802" y2="722"/>
<line x1="955.4" y1="580" x2="955.4" y2="616"/>
<line x1="955.4" y1="665.5" x2="955.4" y2="722"/>
<line x1="364.6" y1="651.4" x2="489" y2="651.4"/>
<line x1="489" y1="616" x2="802" y2="616"/>
<line x1="802" y1="598" x2="1004.5" y2="598"/>
<line x1="802" y1="616" x2="1004.5" y2="616"/>
<line x1="489" y1="651.6" x2="802" y2="651.6"/>
<line x1="489" y1="665.5" x2="802" y2="665.5"/>
<line x1="489" y1="679.8" x2="802" y2="679.8"/>
<line x1="489" y1="694.1" x2="802" y2="694.1"/>
<line x1="489" y1="708.3" x2="802" y2="708.3"/>
<line x1="517.5" y1="651.6" x2="517.5" y2="722"/>
<line x1="570.6" y1="651.6" x2="570.6" y2="722"/>
<line x1="773.6" y1="651.6" x2="773.6" y2="722"/>
</g>
<g stroke="#111" stroke-width="1.6">
<line x1="19" y1="616" x2="364.6" y2="616"/>
<line x1="19" y1="651.4" x2="364.6" y2="651.4"/>
<line x1="19" y1="686.6" x2="364.6" y2="686.6"/>
<line x1="802.5" y1="665.5" x2="1004.5" y2="665.5"/>
<line x1="955.4" y1="693.8" x2="1004.5" y2="693.8"/>
</g>
<g stroke="#000" stroke-width="2">
<line x1="19" y1="580.1" x2="1005" y2="580.1"/>
<line x1="364.5" y1="580.3" x2="364.5" y2="722.3"/>
</g>
</g>

<g fill="#111">
<text x="107.3" y="604" font-size="17.3">CUSTOMER APPROVAL</text>
<text x="26.3" y="625.9" font-size="8.7" stroke="#111" stroke-width="0.25">NAME:</text>
<text x="26.1" y="661" font-size="8.95" stroke="#111" stroke-width="0.25">SIGNATURE:</text>
<text x="26.6" y="696.5" font-size="9" stroke="#111" stroke-width="0.25">DATE:</text>
</g>

<!-- projection symbol -->
<text x="368" y="593.5" font-size="8.9" fill="#7a7a7a">THIRD ANGLE PROJECTION</text>
<g fill="none" stroke="#6aa56a" stroke-width="1">
<circle cx="396.2" cy="622.9" r="18.2"/>
<circle cx="396.2" cy="622.9" r="12.1"/>
<path d="M431.4 610.8 L479.9 605.1 L479.9 640.9 L431.4 634.7 Z"/>
</g>
<g fill="none" stroke="#9cc79c" stroke-width="1" stroke-dasharray="10 2 2 2">
<line x1="369.8" y1="622.9" x2="420.2" y2="622.9"/>
<line x1="396.2" y1="598.2" x2="396.2" y2="647.7"/>
<line x1="427" y1="622.9" x2="484.4" y2="622.9"/>
</g>

<!-- logo -->
<g>
<path d="M386.6 672.4 Q386.6 668.6 389.6 668.6 L463.4 668.6 Q466.4 668.6 466.4 672.4" fill="none" stroke="#e2333d" stroke-width="1.4"/>
<path d="M386.6 685 Q386.6 688.1 389.6 688.1 L463.4 688.1 Q466.4 688.1 466.4 685" fill="none" stroke="#e2333d" stroke-width="1.4"/>
<g fill="none" stroke="#e2333d" stroke-width="2.35" stroke-linejoin="miter">
<path d="M381.9 675.2 H390 Q392.3 675.2 392.3 676.85 Q392.3 678.5 390 678.5 H383.4 M382.9 677.6 V682.8 M388.6 678.6 L392.6 682.8" stroke-width="2.35"/>
<rect x="394.8" y="675.2" width="10.9" height="6.6" rx="3.3"/>
<path d="M408.3 682.8 L410.9 675.3 L414.6 681 L418.3 675.3 L421.4 682.8" stroke-width="2.5"/>
<path d="M423.3 675 L428.5 679 L433.7 675 M428.5 678.5 V682.8" stroke-width="2.5"/>
<path d="M436.8 682.8 V675.2 L444.3 682 M444.3 682.8 V675.2" stroke-width="2.4"/>
<rect x="448" y="675.2" width="10.6" height="6.6" rx="3.3"/>
<path d="M461 674.6 L471.3 682.5 M471.3 674.6 L461 682.5" stroke-width="2.6"/>
</g>
<text x="394.9" y="706.7" font-size="6.5" fill="#707070">WWW.ROMYNOX.NL</text>
</g>

<!-- title -->
<g>
<text x="496.3" y="590.6" font-size="8.6" fill="#808080">Title.</text>
<text x="523.3" y="601.3" font-size="12.4" fill="#111">C DV 1L DIN11851xDN10-50,5 NCSw-HE4</text>
<text x="496" y="626.6" font-size="8.8" fill="#808080">Additional info.</text>
<text x="494.7" y="636.4" font-size="8.7" fill="#111">Inner weldings will be mechanical polished Ra &lt; 0,4 µm and Electro polished</text>
<text x="494.7" y="645.3" font-size="8.7" fill="#111">Outer weldings will be mechanical polished Ra &lt; 1,6 µm</text>
</g>
<!-- revision table -->
<g font-size="6.5" fill="#808080">
<text x="495.2" y="661.3">D</text>
<text x="495.2" y="675.6">C</text>
<text x="495.2" y="689.9">B</text>
</g>
<text x="495" y="703" font-size="8.7" fill="#808080">A</text>
<text x="519.4" y="705.8" font-size="12.3" fill="#111">28-12-22</text>
<text x="577.2" y="703.5" font-size="9" fill="#111" stroke="#111" stroke-width="0.2">Originator</text>
<text x="778.9" y="704.8" font-size="11.8" fill="#111">WE</text>
<g font-size="8.7" fill="#808080">
<text x="492" y="718.3">Edited</text>
<text x="523" y="718.3">Date</text>
<text x="577.2" y="718.3">Discription</text>
<text x="776.8" y="718.3" font-size="8.2">Signd</text>
</g>

<!-- right blocks -->
<g>
<text x="807.2" y="591" font-size="8.7" fill="#808080">DWG No.</text>
<text x="848.2" y="591.8" font-size="12.4" fill="#111">2022121903-A</text>
<text x="958.5" y="591" font-size="8.7" fill="#808080">Scale.</text>
<text x="984.4" y="593.3" font-size="12.6" fill="#111">2:5</text>
<text x="807.2" y="609.2" font-size="8.7" fill="#808080">Article No.</text>
<text x="850.9" y="610" font-size="12.4" fill="#111">MS2022121903-A</text>
<text x="958.5" y="609.4" font-size="8.95" fill="#808080">Units. mm</text>
<text x="808" y="625.2" font-size="8.7" fill="#808080">Notes.</text>
<text x="808" y="642" font-size="8.7" fill="#111">Including WPS &amp; WPQ and weldings tagged</text>
<text x="808.4" y="675" font-size="8.78" fill="#b0b0b0">Tolerances acc. to ISO 2768 f ;</text>
<text x="958.5" y="673.6" font-size="8.6" fill="#808080">Revision.</text>
<text x="982" y="686.9" font-size="15.8" fill="#111" text-anchor="middle">A</text>
<text x="965.7" y="718.3" font-size="24" fill="#808080">A4</text>
</g>
<g font-size="8.7" fill="#111">
<text x="811.9" y="690">0 - 5</text>
<text x="811.9" y="699.6">5 - 10</text>
<text x="811.9" y="709">20 - 100</text>
<text x="811.9" y="718.3">100 - &lt;</text>
<text x="868.7" y="690">± 0,05 mm</text>
<text x="868.7" y="699.6">± 0,1 mm</text>
<text x="868.7" y="709">± 0,15 mm</text>
<text x="868.7" y="718.3">± 0,2 mm</text>
</g>


<rect x="19.2" y="47" width="985.6" height="675.3" fill="none" stroke="#000" stroke-width="2"/>
</svg>
</body></html>
